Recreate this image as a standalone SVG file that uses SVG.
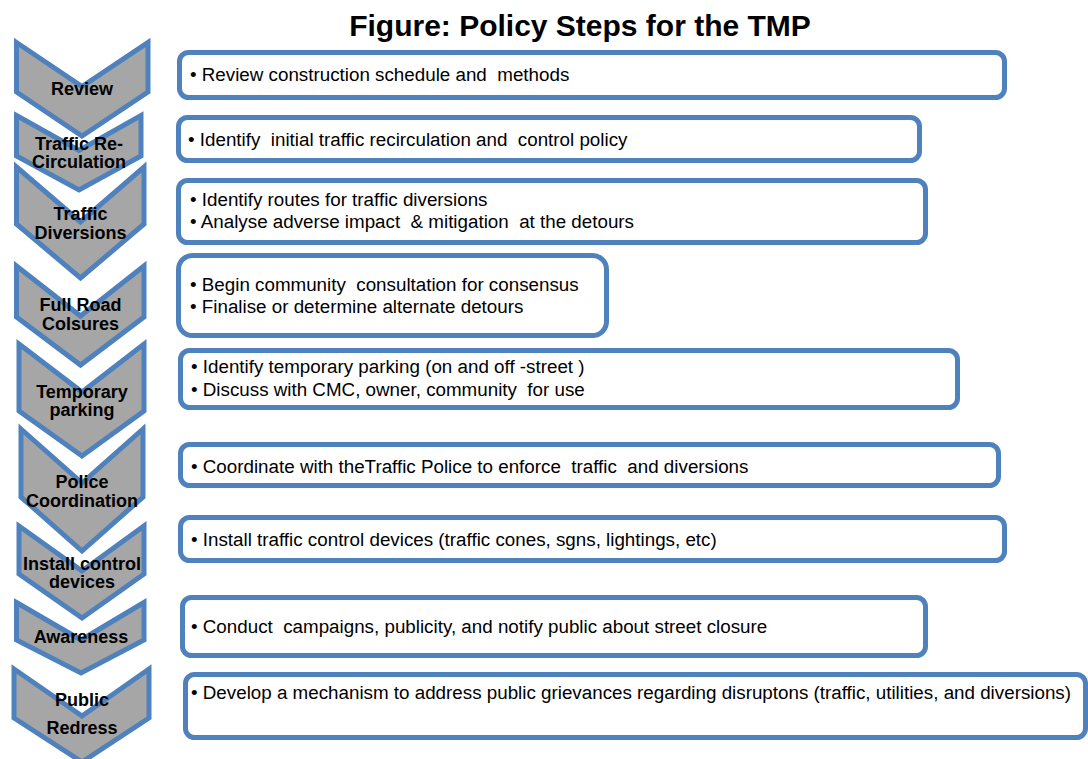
<svg xmlns="http://www.w3.org/2000/svg" width="1088" height="759" viewBox="0 0 1088 759">
<style>
.chev{fill:#A6A6A6;stroke:#4F81BD;stroke-width:5;stroke-linejoin:miter}
.box{fill:#FFFFFF;stroke:#4F81BD;stroke-width:5}
.lbl{font-family:"Liberation Sans",Arial,sans-serif;font-weight:bold;font-size:18px;fill:#000;text-anchor:middle}
.txt{font-family:"Liberation Sans",Arial,sans-serif;font-size:18.8px;fill:#000;white-space:pre}
.title{font-family:"Liberation Sans",Arial,sans-serif;font-weight:bold;font-size:30px;fill:#000;text-anchor:middle}
</style>
<rect width="1088" height="759" fill="#FFFFFF"/>
<text class="title" x="580" y="36">Figure: Policy Steps for the TMP</text>
<g id="connectors"></g>

<g id="step1">
<polygon class="chev" points="16.5,42.5 82,86.5 148,42.5 148,92 82,136 16.5,92"/>
<text class="lbl" x="82" y="95">Review</text>
<rect class="box" x="179.5" y="52.5" width="825" height="45" rx="9"/>
<text class="txt" x="190" y="81" xml:space="preserve">• Review construction schedule and  methods</text>
</g>

<g id="step2">
<polygon class="chev" points="16.5,115.5 79,150.5 141,115.5 141,156 79,190 16.5,156"/>
<text class="lbl" x="79" y="150">Traffic Re-</text>
<text class="lbl" x="79" y="168">Circulation</text>
<rect class="box" x="178.5" y="117.5" width="741" height="43" rx="9"/>
<text class="txt" x="188" y="146" xml:space="preserve">• Identify  initial traffic recirculation and  control policy</text>
</g>

<g id="step3">
<polygon class="chev" points="16.5,167 80.5,222 144,167 144,224 80.5,278 16.5,224"/>
<text class="lbl" x="80.5" y="220">Traffic</text>
<text class="lbl" x="80.5" y="239">Diversions</text>
<rect class="box" x="178.5" y="180.5" width="747" height="62" rx="9"/>
<text class="txt" x="190" y="206" xml:space="preserve">• Identify routes for traffic diversions</text>
<text class="txt" x="190" y="228" xml:space="preserve">• Analyse adverse impact  &amp; mitigation  at the detours</text>
</g>

<g id="step4">
<polygon class="chev" points="16.5,266 80.5,316 144,266 144,317 80.5,365 16.5,317"/>
<text class="lbl" x="80.5" y="311">Full Road</text>
<text class="lbl" x="80.5" y="330">Colsures</text>
<rect class="box" x="178.5" y="255.5" width="428" height="80" rx="14"/>
<text class="txt" x="190" y="291" xml:space="preserve">• Begin community  consultation for consensus</text>
<text class="txt" x="190" y="313" xml:space="preserve">• Finalise or determine alternate detours</text>
</g>

<g id="step5">
<polygon class="chev" points="19,344 82,392 144,344 144,411 82,456 19,411"/>
<text class="lbl" x="82" y="398">Temporary</text>
<text class="lbl" x="82" y="416">parking</text>
<rect class="box" x="180.5" y="350.5" width="777" height="57" rx="9"/>
<text class="txt" x="191" y="373" xml:space="preserve">• Identify temporary parking (on and off -street )</text>
<text class="txt" x="191" y="396" xml:space="preserve">• Discuss with CMC, owner, community  for use</text>
</g>

<g id="step6">
<polygon class="chev" points="21,429 82,483 143,429 143,497 82,551 21,497"/>
<text class="lbl" x="82" y="488">Police</text>
<text class="lbl" x="82" y="507">Coordination</text>
<rect class="box" x="180.5" y="444.5" width="818" height="41" rx="9"/>
<text class="txt" x="191" y="473" xml:space="preserve">• Coordinate with theTraffic Police to enforce  traffic  and diversions</text>
</g>

<g id="step7">
<polygon class="chev" points="19,526 82,571 144,526 144,574 82,618 19,574"/>
<text class="lbl" x="82" y="570">Install control</text>
<text class="lbl" x="82" y="588">devices</text>
<rect class="box" x="180.5" y="517.5" width="824" height="43" rx="9"/>
<text class="txt" x="191" y="546" xml:space="preserve">• Install traffic control devices (traffic cones, sgns, lightings, etc)</text>
</g>

<g id="step8">
<polygon class="chev" points="16.5,602.5 81,640 144,602.5 144,640 81,673 16.5,640"/>
<text class="lbl" x="81" y="643">Awareness</text>
<rect class="box" x="182.5" y="597.5" width="743" height="58" rx="9"/>
<text class="txt" x="191" y="633" xml:space="preserve">• Conduct  campaigns, publicity, and notify public about street closure</text>
</g>

<g id="step9">
<polygon class="chev" points="14,669 82,716 149,669 149,718 82,762 14,718"/>
<text class="lbl" x="82" y="706">Public</text>
<text class="lbl" x="82" y="734">Redress</text>
<rect class="box" x="185.5" y="674.5" width="900" height="63" rx="9"/>
<text class="txt" x="191" y="699" xml:space="preserve">• Develop a mechanism to address public grievances regarding disruptons (traffic, utilities, and diversions)</text>
</g>
</svg>
